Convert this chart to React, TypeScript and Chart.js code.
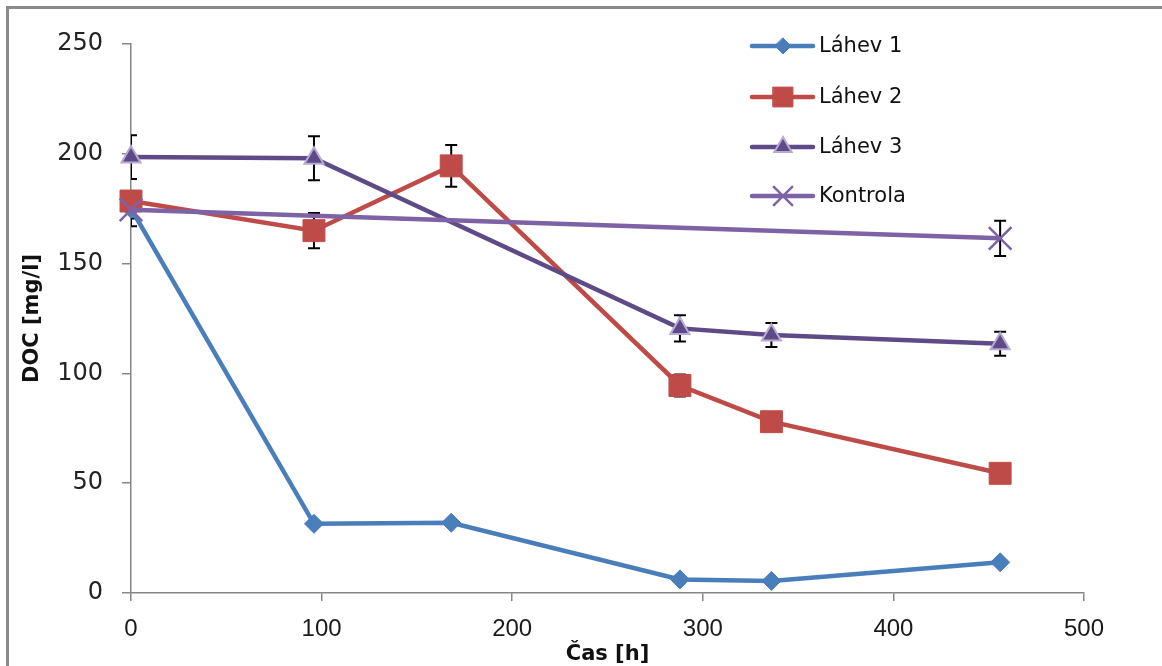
import React, { useEffect, useRef } from 'react';
import { Chart, registerables } from 'chart.js';

Chart.register(...registerables);

// ---- data ----
const timesL1 = [0, 96, 168, 288, 336, 456];
const lahev1 = [175, 31.5, 32, 6.2, 5.5, 14];
const lahev1Err = [8, 0, 0, 0, 0, 0];

const timesL2 = [0, 96, 168, 288, 336, 456];
const lahev2 = [178.5, 165, 194.5, 94.5, 78, 54.5];
const lahev2Err = [4, 8, 9.5, 5, 4, 3];

const timesL3 = [0, 96, 288, 336, 456];
const lahev3 = [198.5, 198, 120.5, 117.5, 113.5];
const lahev3Err = [10, 10, 6, 5.5, 5.5];

const timesK = [0, 456];
const kontrola = [174.5, 161.5];
const kontrolaErr = [4, 8];

const seriesNames = ['Láhev 1', 'Láhev 2', 'Láhev 3', 'Kontrola'];
const xTitle = 'Čas [h]';
const yTitle = 'DOC [mg/l]';
const xTickStep = 100;
const yTickStep = 50;
const xMax = 500;
const yMax = 250;

const COLORS = {
  l1: '#4a7ebb',
  l2: '#be4b48',
  l3: '#5e4a87',
  l3Border: '#b7aad4',
  k: '#7e62a6',
  axis: '#868686',
};

const toPoints = (xs: number[], ys: number[]) => xs.map((x, i) => ({ x, y: ys[i] }));

function drawMarker(ctx: CanvasRenderingContext2D, style: string, x: number, y: number, r: number, fill: string, stroke: string, bw: number) {
  ctx.save();
  ctx.beginPath();
  if (style === 'rectRot') {
    ctx.moveTo(x, y - r);
    ctx.lineTo(x + r, y);
    ctx.lineTo(x, y + r);
    ctx.lineTo(x - r, y);
    ctx.closePath();
  } else if (style === 'rect') {
    const s = Math.SQRT1_2 * r;
    ctx.rect(x - s, y - s, 2 * s, 2 * s);
  } else if (style === 'triangle') {
    let rad = 0;
    ctx.moveTo(x + Math.sin(rad) * r, y - Math.cos(rad) * r);
    rad += (2 * Math.PI) / 3;
    ctx.lineTo(x + Math.sin(rad) * r, y - Math.cos(rad) * r);
    rad += (2 * Math.PI) / 3;
    ctx.lineTo(x + Math.sin(rad) * r, y - Math.cos(rad) * r);
    ctx.closePath();
  } else if (style === 'crossRot') {
    const o = Math.SQRT1_2 * r;
    ctx.moveTo(x - o, y - o);
    ctx.lineTo(x + o, y + o);
    ctx.moveTo(x + o, y - o);
    ctx.lineTo(x - o, y + o);
  }
  if (style !== 'crossRot') {
    ctx.fillStyle = fill;
    ctx.fill();
  }
  if (bw > 0) {
    ctx.strokeStyle = stroke;
    ctx.lineWidth = bw;
    ctx.stroke();
  }
  ctx.restore();
}

const framePlugin = {
  id: 'frame',
  beforeDraw(chart: any) {
    const { ctx, width, height } = chart;
    ctx.save();
    ctx.fillStyle = '#ffffff';
    ctx.fillRect(0, 0, width, height);
    ctx.strokeStyle = '#8a8a8a';
    ctx.lineWidth = 3;
    ctx.beginPath();
    ctx.moveTo(7.5, height + 2);
    ctx.lineTo(7.5, 7.5);
    ctx.lineTo(width + 2, 7.5);
    ctx.stroke();
    ctx.restore();
  },
};

const errorBarPlugin = {
  id: 'errorBars',
  beforeDatasetsDraw(chart: any) {
    const { ctx, chartArea } = chart;
    const yScale = chart.scales.y;
    ctx.save();
    ctx.beginPath();
    ctx.rect(chartArea.left, 0, chartArea.right - chartArea.left + 20, chart.height);
    ctx.clip();
    ctx.strokeStyle = '#000000';
    ctx.lineWidth = 2;
    chart.data.datasets.forEach((ds: any, di: number) => {
      const meta = chart.getDatasetMeta(di);
      const errs: number[] = ds.errors || [];
      meta.data.forEach((pt: any, i: number) => {
        const e = errs[i];
        if (!e) return;
        const v = ds.data[i].y;
        const yTop = yScale.getPixelForValue(v + e);
        const yBot = yScale.getPixelForValue(v - e);
        const x = pt.x;
        const cap = 6;
        ctx.beginPath();
        ctx.moveTo(x, yTop);
        ctx.lineTo(x, yBot);
        ctx.moveTo(x - cap, yTop);
        ctx.lineTo(x + cap, yTop);
        ctx.moveTo(x - cap, yBot);
        ctx.lineTo(x + cap, yBot);
        ctx.stroke();
      });
    });
    ctx.restore();
  },
};

const legendPlugin = {
  id: 'customLegend',
  afterDraw(chart: any) {
    const { ctx } = chart;
    const x0 = 752;
    const x1 = 813;
    const mx = 783;
    const tx = 819;
    const rows = [46, 97, 147, 196];
    ctx.save();
    chart.data.datasets.forEach((ds: any, i: number) => {
      const y = rows[i];
      ctx.beginPath();
      ctx.strokeStyle = ds.borderColor;
      ctx.lineWidth = ds.borderWidth;
      ctx.lineCap = 'round';
      ctx.moveTo(x0, y);
      ctx.lineTo(x1, y);
      ctx.stroke();
      const lr = ds.pointStyle === 'crossRot' ? 13 : ds.pointStyle === 'rect' ? 14 : ds.pointStyle === 'triangle' ? 10 : 8;
      drawMarker(ctx, ds.pointStyle, mx, y, lr, ds.pointBackgroundColor, ds.pointBorderColor, ds.pointBorderWidth);
      ctx.fillStyle = '#111111';
      ctx.font = '21px "DejaVu Sans"';
      ctx.textBaseline = 'middle';
      ctx.textAlign = 'left';
      ctx.fillText(ds.label, tx, y + 1);
    });
    ctx.restore();
  },
};

export default function App() {
  const canvasRef = useRef<HTMLCanvasElement | null>(null);

  useEffect(() => {
    const canvas = canvasRef.current;
    if (!canvas) return;
    const chart = new Chart(canvas, {
      type: 'scatter',
      data: {
        datasets: [
          {
            label: seriesNames[0],
            data: toPoints(timesL1, lahev1),
            errors: lahev1Err,
            showLine: true,
            borderColor: COLORS.l1,
            borderWidth: 4.5,
            pointStyle: 'rectRot',
            pointRadius: 9.5,
            pointBackgroundColor: COLORS.l1,
            pointBorderColor: COLORS.l1,
            pointBorderWidth: 1,
            order: 3,
            clip: false,
          } as any,
          {
            label: seriesNames[1],
            data: toPoints(timesL2, lahev2),
            errors: lahev2Err,
            showLine: true,
            borderColor: COLORS.l2,
            borderWidth: 4.5,
            pointStyle: 'rect',
            pointRadius: 15.5,
            pointBackgroundColor: COLORS.l2,
            pointBorderColor: COLORS.l2,
            pointBorderWidth: 1,
            order: 2,
            clip: false,
          } as any,
          {
            label: seriesNames[2],
            data: toPoints(timesL3, lahev3),
            errors: lahev3Err,
            showLine: true,
            borderColor: COLORS.l3,
            borderWidth: 4.5,
            pointStyle: 'triangle',
            pointRadius: 11,
            pointBackgroundColor: COLORS.l3,
            pointBorderColor: COLORS.l3Border,
            pointBorderWidth: 2,
            order: 1,
            clip: false,
          } as any,
          {
            label: seriesNames[3],
            data: toPoints(timesK, kontrola),
            errors: kontrolaErr,
            showLine: true,
            borderColor: COLORS.k,
            borderWidth: 4.5,
            pointStyle: 'crossRot',
            pointRadius: 16,
            pointBackgroundColor: COLORS.k,
            pointBorderColor: COLORS.k,
            pointBorderWidth: 2.5,
            order: 0,
            clip: false,
          } as any,
        ],
      },
      options: {
        animation: false,
        responsive: false,
        maintainAspectRatio: false,
        events: [],
        layout: { padding: { top: 44, right: 78, left: 0, bottom: 0 } },
        plugins: {
          legend: { display: false },
          tooltip: { enabled: false },
        },
        scales: {
          x: {
            type: 'linear',
            min: 0,
            max: xMax,
            afterFit: (s: any) => {
              s.height = 73;
            },
            border: { color: COLORS.axis, width: 1.5 },
            grid: { drawOnChartArea: false, color: COLORS.axis, tickLength: 8, lineWidth: 1.5 },
            ticks: {
              stepSize: xTickStep,
              padding: 14,
              color: '#1a1a1a',
              font: { family: '"Liberation Sans Narrow", "Liberation Sans"', size: 24 },
            },
            title: {
              display: true,
              text: xTitle,
              color: '#111111',
              font: { family: '"DejaVu Sans"', size: 21, weight: 'bold' },
              padding: { top: 0, bottom: -1 },
            },
          },
          y: {
            type: 'linear',
            min: 0,
            max: yMax,
            afterFit: (s: any) => {
              s.width = 131;
            },
            border: { color: COLORS.axis, width: 1.5 },
            grid: { drawOnChartArea: false, color: COLORS.axis, tickLength: 9, lineWidth: 1.5 },
            ticks: {
              stepSize: yTickStep,
              padding: 19,
              color: '#222222',
              font: { family: '"DejaVu Sans"', size: 24 },
            },
            title: {
              display: true,
              text: yTitle,
              color: '#111111',
              font: { family: '"DejaVu Sans"', size: 21, weight: 'bold' },
              padding: { top: 20, bottom: 0 },
            },
          },
        },
      } as any,
      plugins: [framePlugin, errorBarPlugin, legendPlugin],
    });
    return () => chart.destroy();
  }, []);

  return (
    <div style={{ position: 'absolute', left: 0, top: 0, width: 1162, height: 666, overflow: 'hidden' }}>
      <canvas ref={canvasRef} width={1162} height={666} style={{ display: 'block', width: 1162, height: 666 }} />
    </div>
  );
}
